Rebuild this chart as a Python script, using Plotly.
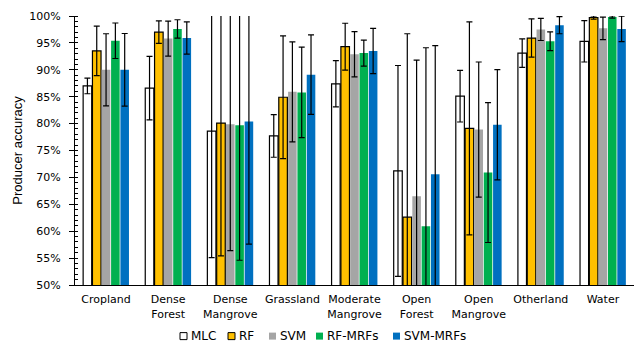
import plotly.graph_objects as go

# Land-cover classes (x categories)
classes = ["Cropland", "Dense<br>Forest", "Dense<br>Mangrove", "Grassland",
           "Moderate<br>Mangrove", "Open<br>Forest", "Open<br>Mangrove",
           "Otherland", "Water"]

# Producer accuracy (%) per classifier
mlc      = [87.0, 86.6, 78.6, 77.7, 87.4, 71.2, 85.1, 93.1, 95.3]
rf       = [93.5, 97.0, 80.1, 84.9, 94.3, 62.6, 79.1, 95.9, 99.7]
svm      = [90.0, 95.8, 79.9, 85.9, 92.9, 66.5, 78.9, 97.5, 97.7]
rf_mrfs  = [95.4, 97.6, 79.7, 85.8, 93.1, 60.9, 70.9, 95.3, 99.8]
svm_mrfs = [90.0, 95.9, 80.4, 89.1, 93.5, 70.6, 79.8, 98.3, 97.6]

# Error margins (± %)
mlc_err      = [1.45, 5.9, 23.5, 3.95, 4.3, 19.6, 4.8, 2.65, 3.85]
rf_err       = [4.6, 2.1, 24.7, 11.4, 4.35, 34.1, 19.8, 3.55, 0.3]
svm_err      = [6.7, 3.25, 23.5, 9.3, 4.2, 25.3, 12.55, 2.05, 2.1]
rf_mrfs_err  = [3.3, 1.7, 25.1, 8.4, 2.4, 33.2, 13.0, 1.75, 0.2]
svm_mrfs_err = [6.75, 3.0, 22.8, 7.4, 4.2, 23.9, 10.25, 1.6, 2.35]

series_names = ["MLC", "RF", "SVM", "RF-MRFs", "SVM-MRFs"]
series_vals = [mlc, rf, svm, rf_mrfs, svm_mrfs]
series_errs = [mlc_err, rf_err, svm_err, rf_mrfs_err, svm_mrfs_err]
fills = ["#FFFFFF", "#FFC000", "#A5A5A5", "#00B050", "#0070C0"]
outlines = ["#000000", "#000000", None, None, None]

TICK_FONT = dict(family="DejaVu Sans, Verdana, sans-serif", size=11, color="#000000")

fig = go.Figure()
for name, vals, errs, fc, oc in zip(series_names, series_vals, series_errs, fills, outlines):
    fig.add_trace(go.Bar(
        name=name, x=classes, y=vals,
        marker=dict(color=fc, line=dict(color=oc if oc else fc, width=1.2 if oc else 0)),
        error_y=dict(type="data", array=errs, visible=True,
                     color="#000000", thickness=1.2, width=3),
        showlegend=False,
    ))

# Compact legend row under the chart: swatch + label per series
W, L, R = 636, 75, 2
pw = W - L - R
legend_px = [180, 228, 269, 316, 393]
legend_y = -0.19
for px, name, fc, oc in zip(legend_px, series_names, fills, outlines):
    x0 = (px - L) / pw
    x1 = (px + 7 - L) / pw
    fig.add_shape(type="rect", xref="paper", yref="paper",
                  x0=x0, x1=x1, y0=legend_y - 3.5 / 269, y1=legend_y + 3.5 / 269,
                  fillcolor=fc, line=dict(color=oc if oc else fc, width=1 if oc else 0))
    fig.add_annotation(xref="paper", yref="paper", x=(px + 8.5 - L) / pw, y=legend_y,
                       xanchor="left", yanchor="middle", showarrow=False, text=name,
                       font=dict(family="DejaVu Sans, Verdana, sans-serif", size=12,
                                 color="#000000"))

fig.update_layout(
    width=W, height=346,
    margin=dict(l=L, r=R, t=16, b=61),
    paper_bgcolor="#FFFFFF", plot_bgcolor="#FFFFFF",
    barmode="group", bargap=0.25, bargroupgap=0.08,
    showlegend=False,
)
fig.update_xaxes(
    showline=True, linecolor="#000000", linewidth=1.3,
    showgrid=False, ticks="", tickfont=TICK_FONT, ticklabelstandoff=4,
)
fig.update_yaxes(
    range=[50, 100], dtick=5, ticksuffix="%",
    showline=True, linecolor="#000000", linewidth=1.3,
    showgrid=False, zeroline=False,
    ticks="outside", ticklen=5, tickcolor="#000000", tickwidth=1,
    minor=dict(dtick=1, ticks="inside", ticklen=3, tickcolor="#000000", tickwidth=1),
    tickfont=TICK_FONT, ticklabelstandoff=6,
    title=dict(text="Producer accuracy", standoff=3,
               font=dict(family="Liberation Sans, Arial, sans-serif", size=13,
                         color="#000000")),
)

fig.write_html("out.html")
